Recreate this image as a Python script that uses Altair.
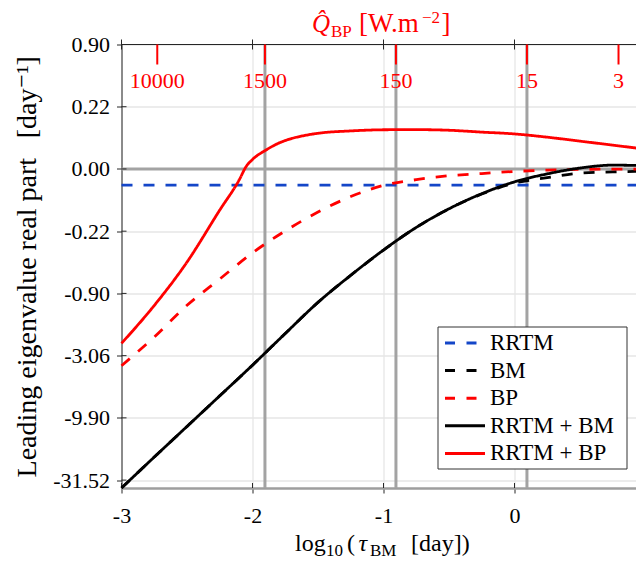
import altair as alt
import pandas as pd

FONT = "Liberation Serif, Times New Roman, DejaVu Serif, serif"
W, H = 524, 443.5

series_names = ["RRTM", "BM", "BP", "RRTM + BM", "RRTM + BP"]
series_colors = ["#1446c8", "#000000", "#ff0000", "#000000", "#ff0000"]
series_dash = [[11, 11], [11, 11], [11, 11], [1, 0], [1, 0]]
legend_dash = [[10, 11.5], [10, 11.5], [10, 11.5], [1, 0], [1, 0]]

# x = log10(tau_BM)
x_rrtm = [-3, 1]
y_rrtm = [-0.035, -0.035]

x_grid = [-3, -2.75, -2.5, -2.25, -2, -1.75, -1.5, -1.25, -1, -0.75, -0.5,
          -0.25, 0, 0.25, 0.5, 0.75, 1]
y_bm = [-36.5, -20.55, -11.62, -6.55, -3.67, -2.00, -1.08, -0.615, -0.348,
        -0.195, -0.109, -0.059, -0.030, -0.0175, -0.0081, -0.0055, -0.0045]
y_bp = [-3.71, -2.14, -1.146, -0.666, -0.372, -0.2145, -0.122, -0.0667,
        -0.0354, -0.0219, -0.0134, -0.0089, -0.0047, -0.0022, -0.0007,
        -0.0003, -0.0002]
y_rrtm_bm = [-36.5, -20.55, -11.62, -6.55, -3.67, -2.00, -1.08, -0.615,
             -0.348, -0.195, -0.109, -0.058, -0.027, -0.0095, 0.0017, 0.0073,
             0.0063]

x_rrtm_bp = [-3, -2.75, -2.5, -2.25, -2.1, -2.05, -2, -1.9, -1.8, -1.7, -1.6,
             -1.5, -1.25, -1, -0.75, -0.5, -0.25, 0, 0.25, 0.5, 0.75, 1]
y_rrtm_bp = [-2.42, -1.15, -0.46, -0.114, -0.0215, 0.004, 0.0192, 0.0413,
             0.0612, 0.0758, 0.0859, 0.0935, 0.1021, 0.1065, 0.107, 0.1046,
             0.0977, 0.0912, 0.080, 0.0673, 0.0554, 0.0442]

x_ticks = [-3, -2, -1, 0, 1]
y_ticks = [0.9, 0.2162, 0.0, -0.2162, -0.9, -3.0623, -9.9, -31.523]

# top axis: Q_BP [W.m^-2]
q_labels = ["10000", "1500", "150", "15", "3"]
q_x = [-2.727, -1.905, -0.905, 0.095, 0.794]
gray_x = [-1.905, -0.905, 0.095]

rows = []
for name, xs, ys in [("RRTM", x_rrtm, y_rrtm), ("BM", x_grid, y_bm),
                     ("BP", x_grid, y_bp), ("RRTM + BM", x_grid, y_rrtm_bm),
                     ("RRTM + BP", x_rrtm_bp, y_rrtm_bp)]:
    for i, (a, b) in enumerate(zip(xs, ys)):
        rows.append({"series": name, "x": a, "y": b, "order": i})
df = pd.DataFrame(rows)

x_scale = alt.Scale(domain=[-3, 1], nice=False, zero=False)
y_scale = alt.Scale(type="symlog", constant=0.1, domain=[-36.5, 0.9],
                    nice=False, zero=False)

x_axis = alt.Axis(values=x_ticks, title=None, grid=True, tickSize=5,
                  labelPadding=12, labelFlush=False, domainColor="#9e9e9e", domainWidth=2.5,
                  labelExpr="datum.value < 0 ? '-' + abs(datum.value) : '' + datum.value")
y_axis = alt.Axis(values=y_ticks, title="Leading eigenvalue real part\u2002\u2009[day⁻¹]",
                  grid=True, tickSize=5, labelPadding=7, titlePadding=11, labelFlush=False,
                  labelExpr="(datum.value < 0 ? '-' : '') + format(abs(datum.value), '.2f')")

X = alt.X("x:Q", scale=x_scale, axis=x_axis)
Y = alt.Y("y:Q", scale=y_scale, axis=y_axis)

lines = alt.Chart(df).mark_line(strokeWidth=2.8, interpolate="monotone").encode(
    x=X, y=Y,
    color=alt.Color("series:N", scale=alt.Scale(domain=series_names, range=series_colors), legend=None),
    strokeDash=alt.StrokeDash("series:N", scale=alt.Scale(domain=series_names, range=series_dash), legend=None),
    order="order:Q",
)

gray_v = alt.Chart(pd.DataFrame({"x": gray_x})).mark_rule(color="#a3a3a3", strokeWidth=3).encode(x=X)
gray_h = alt.Chart(pd.DataFrame({"y": [0.0]})).mark_rule(color="#a3a3a3", strokeWidth=3).encode(y=Y)

xt = pd.DataFrame({"x": x_ticks})
yt = pd.DataFrame({"y": y_ticks})
in_bottom = alt.Chart(xt).mark_rule(color="#262626").encode(x=X, y=alt.value(H - 5), y2=alt.value(H))
in_top = alt.Chart(xt).mark_rule(color="#262626").encode(x=X, y=alt.value(-5), y2=alt.value(5))
in_left = alt.Chart(yt).mark_rule(color="#262626").encode(y=Y, x=alt.value(0), x2=alt.value(5))
one = pd.DataFrame({"a": [0]})
top_line = alt.Chart(one).mark_rule(color="#262626").encode(
    x=alt.value(0), x2=alt.value(W), y=alt.value(0))

qdf = pd.DataFrame({"x": q_x, "label": q_labels})
red_ticks = alt.Chart(qdf).mark_rule(color="#ff0000", strokeWidth=2).encode(
    x=X, y=alt.value(0), y2=alt.value(20))
red_labels = alt.Chart(qdf).mark_text(color="#ff0000", font=FONT, fontSize=22,
                                      baseline="alphabetic", align="center", y=43.5).encode(
    x=X, text="label:N")


def label(text, x, y, size, color="#000", style="normal", baseline="alphabetic"):
    return alt.Chart(pd.DataFrame({"t": [text]})).mark_text(
        x=x, y=y, font=FONT, fontSize=size, color=color, fontStyle=style,
        align="left", baseline=baseline).encode(text="t:N")


top_title = [
    label("Q\u0302", 190.5, -12.5, 25, "#ff0000", "italic"),
    label("BP", 209.5, -7.5, 17, "#ff0000"),
    label("[W.m", 237.5, -12.5, 27, "#ff0000"),
    label("\u22122", 300.5, -22, 17, "#ff0000"),
    label("]", 320, -12.5, 27, "#ff0000"),
]
bottom_title = [
    label("log", 173.5, 506.5, 24),
    label("10", 204.5, 511, 17),
    label("(", 225.5, 506.5, 24),
    label("τ", 237, 506.5, 24, style="italic"),
    label("BM", 248.5, 511, 17),
    label("[day])", 289.5, 506.5, 24),
]

legend_layers = [alt.Chart(one).mark_rect(fill="white", stroke="#333333", strokeWidth=1).encode(
    x=alt.value(316.5), x2=alt.value(505.5), y=alt.value(282.5), y2=alt.value(424.5))]
for i, name in enumerate(series_names):
    yy = 298.5 + 27.6 * i
    legend_layers.append(alt.Chart(one).mark_rule(
        color=series_colors[i], strokeWidth=3, strokeDash=legend_dash[i]).encode(
        x=alt.value(323.5), x2=alt.value(363.5), y=alt.value(yy)))
    legend_layers.append(label(name, 368.5, yy, 23, baseline="middle"))

chart = alt.layer(
    gray_v, gray_h, in_bottom, in_top, in_left, top_line, lines,
    red_ticks, red_labels, *top_title, *bottom_title, *legend_layers,
).properties(
    width=W, height=H,
    autosize=alt.AutoSizeParams(type="none"),
    padding={"left": 113.5, "top": 36.5, "right": -9.5, "bottom": 72},
).configure_view(strokeWidth=0).configure_axis(
    labelFont=FONT, labelFontSize=22, labelColor="#000",
    titleFont=FONT, titleFontSize=28, titleFontWeight="normal", titleColor="#000",
    tickColor="#262626", domainColor="#262626", gridColor="#e6e6e6", gridWidth=1.3,
)

chart.save("out.html", embed_options={"renderer": "svg", "actions": False})
